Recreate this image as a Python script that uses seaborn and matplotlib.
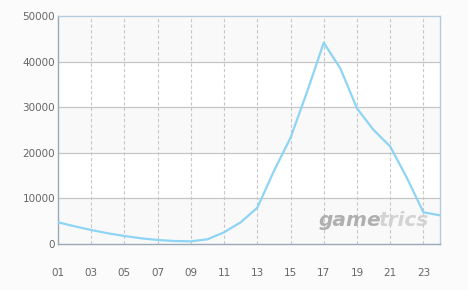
import matplotlib
matplotlib.use("Agg")
import matplotlib.pyplot as plt
import seaborn as sns
import pandas as pd

hours = list(range(1, 25))
values = [4760, 3880, 3070, 2350, 1750, 1250, 880, 660, 590, 1030, 2570, 4760,
          7960, 16000, 23300, 33400, 44150, 38500, 29750, 25000, 21400, 14550, 6950, 6290]
xtick_hours = [1, 3, 5, 7, 9, 11, 13, 15, 17, 19, 21, 23]
xtick_labels = ["01", "03", "05", "07", "09", "11", "13", "15", "17", "19", "21", "23"]
ytick_values = [0, 10000, 20000, 30000, 40000, 50000]

df = pd.DataFrame({"hour": hours, "value": values})

sns.set_style("white")
plt.rcParams['font.family'] = ['DejaVu Sans']

fig = plt.figure(figsize=(4.68, 2.90), dpi=100, facecolor="#fbfbfb")
ax = fig.add_axes([58/468, 46/290, 382/468, 228/290])
ax.set_facecolor("white")

# alternating bands
for lo in (0, 20000, 40000):
    ax.axhspan(lo, lo + 10000, color="#f9f9f9", zorder=0, lw=0)

sns.lineplot(data=df, x="hour", y="value", ax=ax, color="#8ed4f4", linewidth=1.6, zorder=3)

ax.set_xlim(1, 24)
ax.set_ylim(0, 50000)
ax.set_xticks(xtick_hours)
ax.set_xticklabels(xtick_labels)
ax.set_yticks(ytick_values)
ax.set_yticklabels([str(v) for v in ytick_values])
ax.set_xlabel("")
ax.set_ylabel("")

for v in ytick_values[1:-1]:
    ax.axhline(v, color="#c6c6c6", lw=0.9, zorder=1)
for h in xtick_hours[1:]:
    ax.axvline(h, color="#c8c8c8", lw=0.8, ls=(0, (3, 2)), zorder=1)

ax.tick_params(axis="both", length=0, labelsize=7.5, colors="#666666")
ax.tick_params(axis="x", pad=17)
ax.tick_params(axis="y", pad=2)

for s in ("left", "bottom"):
    ax.spines[s].set_color("#9aa8b8")
    ax.spines[s].set_linewidth(1.0)
for s in ("top", "right"):
    ax.spines[s].set_color("#b4cce0")
    ax.spines[s].set_linewidth(1.0)

# watermark
fig.text(319/468, 1 - 221/290, "game", color="#a8a8a8", fontsize=14.5, fontweight="bold",
         style="italic", va="center", ha="left", alpha=0.9)
fig.text(378/468, 1 - 221/290, "trics", color="#cfcfcf", fontsize=14.5, fontweight="bold",
         style="italic", va="center", ha="left", alpha=0.9)

fig.savefig("out.png", dpi=100, facecolor=fig.get_facecolor())
